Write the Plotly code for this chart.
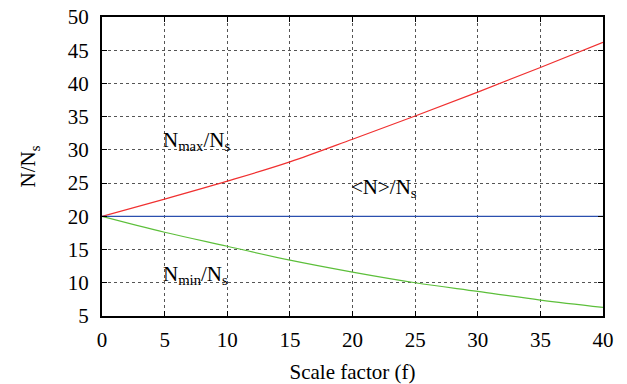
import plotly.graph_objects as go

f = [0, 5, 10, 15, 20, 25, 30, 35, 40]
n_max = [20.0, 22.6, 25.3, 28.2, 31.6, 35.1, 38.7, 42.4, 46.2]
n_mean = [20, 20, 20, 20, 20, 20, 20, 20, 20]
n_min = [20.0, 17.6, 15.5, 13.4, 11.6, 10.0, 8.7, 7.4, 6.3]

FONT = "Liberation Serif"
FS = 21

fig = go.Figure()
fig.add_trace(go.Scatter(x=f, y=n_max, mode="lines", line=dict(color="#f03030", width=1.2, shape="spline")))
fig.add_trace(go.Scatter(x=f, y=n_mean, mode="lines", line=dict(color="#2b4fae", width=1.2)))
fig.add_trace(go.Scatter(x=f, y=n_min, mode="lines", line=dict(color="#5cbf3a", width=1.2, shape="spline")))

ann = dict(showarrow=False, xanchor="left", yanchor="middle", xshift=-4,
           font=dict(family=FONT, size=FS, color="black"))
fig.add_annotation(x=5, y=31.3, text="N<sub>max</sub>/N<sub>s</sub>", **ann)
fig.add_annotation(x=20, y=24.3, text="&lt;N&gt;/N<sub>s</sub>", **ann)
fig.add_annotation(x=5, y=11.1, text="N<sub>min</sub>/N<sub>s</sub>", **ann)

axis_common = dict(
    showline=True, linecolor="black", linewidth=2, mirror="ticks",
    ticks="inside", ticklen=5, tickcolor="black", tickwidth=1,
    showgrid=True, gridcolor="#555555", griddash="dot", gridwidth=1,
    zeroline=False, automargin=False, tickfont=dict(family=FONT, size=FS, color="black"),
)
fig.update_xaxes(range=[0, 40], tickvals=[0, 5, 10, 15, 20, 25, 30, 35, 40],
                 ticklabelstandoff=4,
                 title=dict(text="Scale factor (f)", font=dict(family=FONT, size=FS, color="black"), standoff=14),
                 **axis_common)
fig.update_yaxes(range=[5, 50], tickvals=[5, 10, 15, 20, 25, 30, 35, 40, 45, 50],
                 ticklabelstandoff=7,
                 title=dict(text="N/N<sub>s</sub>", font=dict(family=FONT, size=FS, color="black"), standoff=26),
                 **axis_common)
fig.update_layout(
    width=627, height=384, showlegend=False,
    plot_bgcolor="white", paper_bgcolor="white",
    margin=dict(l=102, r=24, t=17, b=68),
    font=dict(family=FONT, size=FS, color="black"),
)
fig.write_html("out.html", config={"displayModeBar": False},
               post_script="document.body.style.margin='0';")
